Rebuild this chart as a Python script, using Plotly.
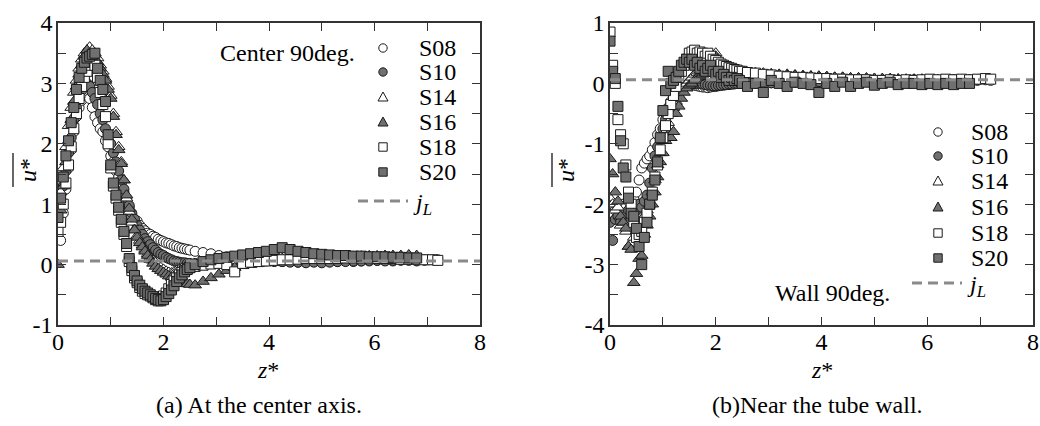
import plotly.graph_objects as go

# ---------------- data ----------------
Z = [0.0, 0.05, 0.1, 0.15, 0.2, 0.25, 0.3, 0.35, 0.4, 0.45,
     0.5, 0.55, 0.6, 0.65, 0.7, 0.75, 0.8, 0.85, 0.9, 0.95,
     1.0, 1.05, 1.1, 1.15, 1.2, 1.25, 1.3, 1.35, 1.4, 1.45,
     1.5, 1.55, 1.6, 1.65, 1.7, 1.75, 1.8, 1.85, 1.9, 1.95,
     2.0, 2.05, 2.1, 2.15, 2.2, 2.25, 2.3, 2.35, 2.4, 2.45,
     2.5,
     2.6, 2.75, 2.9, 3.05, 3.2, 3.35, 3.5, 3.65, 3.8, 3.95,
     4.1, 4.25, 4.4, 4.55, 4.7, 4.85, 5.0, 5.15, 5.3, 5.45,
     5.6, 5.75, 5.9, 6.05, 6.2, 6.35, 6.5, 6.65, 6.8, 6.95,
     7.1, 7.2]

SERIES = ["S08", "S10", "S14", "S16", "S18", "S20"]
J_L = 0.06

# (a) center axis
A_S08 = [None, 0.40, 0.85, 1.25, 1.6, 1.9, 2.2, 2.45, 2.6, 2.72,
         2.8, 2.8, 2.75, 2.6, 2.45, 2.35, 2.25, 2.2, 2.05, 1.95,
         1.8, 1.7, 1.55, 1.45, 1.35, 1.2, 1.05, 0.95, 0.8, 0.75,
         0.72, 0.65, 0.6, 0.56, 0.52, 0.5, 0.47, 0.45, 0.42, 0.4,
         0.38, 0.36, 0.35, 0.33, 0.31, 0.3, 0.28, 0.27, 0.26, 0.25,
         0.24,
         0.22, 0.2, 0.18, 0.15, 0.13, 0.12, 0.1, 0.09, 0.08, 0.07,
         0.06, 0.05, 0.05, 0.04, 0.04, 0.05, 0.04, 0.05, 0.05, 0.06,
         0.05, 0.06, 0.06, 0.07, 0.07, 0.06, 0.07, 0.07, 0.06, 0.07,
         0.08, 0.08]
A_S10 = [1.25, 1.1, 1.3, 1.55, 1.85, 2.1, 2.4, 2.6, 2.75, 2.88,
         2.95, 3.0, 2.95, 2.85, 2.75, 2.65, 2.5, 2.4, 2.25, 2.15,
         2.0, 1.85, 1.7, 1.55, 1.4, 1.25, 1.1, 0.98, 0.85, 0.75,
         0.65, 0.57, 0.5, 0.43, 0.38, 0.33, 0.28, 0.24, 0.2, 0.17,
         0.15, 0.12, 0.1, 0.08, 0.06, 0.05, 0.04, 0.03, 0.03, 0.02,
         0.02,
         0.02, 0.02, 0.03, 0.03, 0.04, 0.05, 0.05, 0.06, 0.07, 0.06,
         0.05, 0.05, 0.04, 0.04, 0.03, 0.04, 0.03, 0.04, 0.05, 0.05,
         0.06, 0.06, 0.07, 0.07, 0.06, 0.07, 0.08, 0.08, 0.07, 0.08]
A_S14 = [None, 1.2, 1.6, 1.95, 2.3, 2.6, 2.85, 3.05, 3.25, 3.4,
         3.5, 3.55, 3.6, 3.55, 3.5, 3.42, 3.3, 3.2, 3.08, 2.95,
         2.8, 2.5, 2.2, 1.95, 1.7, 1.4, 1.1, 0.88, 0.7, 0.58,
         0.48, 0.4, 0.32, 0.25, 0.18, 0.12, 0.07, 0.03, -0.02, -0.05,
         -0.08, -0.11, -0.13, -0.14, -0.12, -0.1, -0.08, -0.06, -0.05, -0.04,
         -0.03,
         -0.02, 0.0, 0.02, 0.03, 0.05, 0.06, 0.07, 0.08, 0.08, 0.09,
         0.1, 0.1, 0.1, 0.11, 0.11, 0.12, 0.12, 0.12, 0.13, 0.13,
         0.13, 0.14, 0.14, 0.14, 0.13, 0.13, 0.13, 0.12, 0.12]
A_S16 = [0.0, 0.9, 1.3, 1.7, 2.05, 2.4, 2.7, 2.95, 3.15, 3.3,
         3.45, 3.55, 3.5, 3.45, 3.4, 3.35, 3.25, 3.15, 3.05, 2.9,
         2.75, 2.45, 2.15, 1.9, 1.67, 1.4, 1.15, 0.93, 0.75, 0.57,
         0.45, 0.36, 0.29, 0.22, 0.15, 0.08, 0.02, -0.03, -0.07, -0.1,
         -0.13, -0.16, -0.19, -0.21, -0.23, -0.25, -0.27, -0.29, -0.31, -0.32,
         -0.33,
         -0.34, -0.28, -0.22, -0.16, -0.1, -0.05, -0.02, 0.0, 0.02, 0.03,
         0.05, 0.06, 0.07, 0.08, 0.09, 0.1, 0.1, 0.11, 0.12, 0.12,
         0.13, 0.13, 0.14, 0.14, 0.15, 0.15, 0.15, 0.16, 0.15]
A_S18 = [0.55, 0.7, 1.0, 1.35, 1.65, 1.95, 2.25, 2.5, 2.75, 2.95,
         3.1, 3.2, 3.3, 3.35, 3.3, 3.1, 2.85, 2.65, 2.45, 2.0,
         1.6, 1.3, 1.1, 0.9, 0.7, 0.5, 0.3, 0.05, -0.1, -0.22,
         -0.3, -0.38, -0.44, -0.48, -0.5, -0.52, -0.55, -0.58, -0.6, -0.57,
         -0.52, -0.47, -0.4, -0.33, -0.27, -0.22, -0.17, -0.13, -0.1, -0.07,
         -0.05,
         -0.03, -0.01, 0.01, 0.02, 0.0, -0.12, 0.02, 0.04, 0.05, 0.06,
         0.07, 0.08, 0.08, 0.09, 0.1, 0.1, 0.1, 0.1, 0.1, 0.11,
         0.11, 0.11, 0.11, 0.1, 0.1, 0.1, 0.09, 0.09, 0.09, 0.08,
         0.08, 0.07]
A_S20 = [0.78, 1.1, 1.45, 1.8, 2.05, 2.35, 2.6, 2.9, 3.1, 3.25,
         3.35, 3.42, 3.45, 3.48, 3.5, 3.25, 3.05, 2.9, 2.7, 2.15,
         1.65, 1.35, 1.15, 0.95, 0.75, 0.55, 0.35, 0.1, -0.05, -0.18,
         -0.27, -0.34, -0.4, -0.44, -0.47, -0.5, -0.53, -0.56, -0.58, -0.6,
         -0.58, -0.53, -0.48, -0.42, -0.35, -0.28, -0.22, -0.17, -0.12, -0.08,
         -0.05,
         0.0, 0.05, 0.08, 0.1, 0.12, 0.14, 0.16, 0.18, 0.2, 0.22,
         0.25, 0.28, 0.25, 0.22, 0.2, 0.18, 0.17, 0.16, 0.15, 0.15,
         0.14, 0.14, 0.13, 0.13, 0.13, 0.12, 0.12, 0.11, 0.11]

# (b) near the tube wall
B_S08 = [-1.95, -2.0, -2.1, -2.05, -2.1, -2.0, -2.05, -1.95, -1.98, -1.9,
         -1.8, -1.6, -1.4, -1.32, -1.25, -1.2, -1.1, -0.98, -0.85, -0.75,
         -0.6, -0.5, -0.4, -0.3, -0.22, -0.15, -0.1, -0.07, -0.05, -0.03,
         -0.02, -0.02, -0.03, -0.04, -0.05, -0.06, -0.06, -0.07, -0.06, -0.05,
         -0.05, -0.04, -0.03, -0.03, -0.02, -0.02, -0.01, -0.01, 0.0, 0.0,
         0.0,
         0.0, 0.01, 0.0, 0.01, 0.02, 0.01, 0.02, 0.03, 0.02, 0.03,
         0.04, 0.03, 0.04, 0.04, 0.05, 0.04, 0.05, 0.05, 0.06, 0.05,
         0.05, 0.06, 0.05, 0.06, 0.05, 0.06, 0.06, 0.05, 0.06, 0.05,
         0.06, 0.05]
B_S10 = [-2.3, -2.6, -2.25, -2.2, -2.3, -2.15, -2.2, -2.1, -2.15, -2.05,
         -2.1, -2.0, -2.05, -1.95, -1.85, -1.65, -1.4, -1.2, -1.05, -0.9,
         -0.75, -0.6, -0.45, -0.35, -0.25, -0.18, -0.12, -0.08, -0.05, -0.03,
         -0.02, -0.01, 0.0, 0.0, 0.0, -0.01, -0.02, -0.03, -0.03, -0.04,
         -0.04, -0.03, -0.03, -0.02, -0.02, -0.01, -0.01, 0.0, 0.0, 0.01,
         0.01,
         0.0, 0.01, 0.02, 0.01, 0.02, 0.03, 0.02, 0.03, 0.02, 0.03,
         0.04, 0.03, 0.04, 0.03, 0.04, 0.05, 0.04, 0.05, 0.04, 0.05,
         0.05, 0.04, 0.05, 0.06, 0.05, 0.05, 0.06, 0.05, 0.05, 0.06]
B_S14 = [-1.9, -2.0, -2.1, -2.05, -2.35, -2.3, -2.45, -2.7, -2.65, -2.55,
         -2.45, -2.35, -2.25, -2.2, -2.1, -2.0, -1.8, -1.6, -1.35, -1.15,
         -0.95, -0.8, -0.65, -0.5, -0.4, -0.3, -0.2, -0.12, -0.05, 0.0,
         0.05, 0.1, 0.15, 0.18, 0.2, 0.22, 0.25, 0.3, 0.35, 0.45,
         0.5, 0.4, 0.3, 0.28, 0.25, 0.25, 0.22, 0.22, 0.2, 0.2,
         0.2,
         0.18, 0.18, 0.17, 0.16, 0.15, 0.15, 0.14, 0.13, 0.12, 0.12,
         0.11, 0.1, 0.1, 0.09, 0.09, 0.08, 0.08, 0.07, 0.07, 0.07,
         0.06, 0.06, 0.06, 0.06, 0.05, 0.05, 0.05, 0.05, 0.05, 0.05]
B_S16 = [-1.25, -1.5, -1.8, -1.95, -2.2, -2.3, -2.4, -2.7, -2.75, -3.3,
         -3.15, -2.9, -2.85, -2.5, -2.35, -2.2, -2.0, -1.8, -1.55, -1.3,
         -1.15, -0.95, -0.85, -0.9, -0.8, -0.5, -0.38, -0.25, -0.15, -0.08,
         -0.03, 0.0, 0.05, 0.1, 0.12, 0.15, 0.18, 0.2, 0.25, 0.3,
         0.45, 0.35, 0.28, 0.25, 0.22, 0.22, 0.2, 0.2, 0.18, 0.18,
         0.17,
         0.17, 0.16, 0.15, 0.15, 0.14, 0.13, 0.13, 0.12, 0.12, 0.11,
         0.11, 0.1, 0.1, 0.09, 0.09, 0.09, 0.08, 0.08, 0.08, 0.07,
         0.07, 0.07, 0.07, 0.06, 0.06, 0.06, 0.06, 0.06, 0.06]
B_S18 = [0.85, 0.3, 0.0, -0.6, -0.85, -1.0, -1.35, -1.8, -2.0, -2.3,
         -2.55, -2.5, -2.45, -2.3, -2.15, -2.0, -1.8, -1.55, -1.35, -1.1,
         -0.9, -0.7, -0.5, -0.35, -0.2, -0.05, 0.1, 0.2, 0.3, 0.4,
         0.5, 0.52, 0.55, 0.5, 0.52, 0.5, 0.45, 0.5, 0.45, 0.4,
         0.38, 0.35, 0.32, 0.3, 0.28, 0.26, 0.25, 0.23, 0.22, 0.2,
         0.2,
         0.18, 0.17, 0.15, 0.14, 0.12, 0.11, 0.1, 0.1, 0.09, 0.08,
         0.08, 0.07, 0.07, 0.06, 0.06, 0.06, 0.05, 0.05, 0.06, 0.05,
         0.06, 0.05, 0.06, 0.07, 0.06, 0.07, 0.06, 0.07, 0.06, 0.07,
         0.08, 0.07]
B_S20 = [0.7, 0.2, 0.08, -0.38, -0.95, -1.4, -1.55, -1.9, -2.15, -2.2,
         -2.4, -2.7, -3.0, -2.55, -2.3, -2.0, -1.85, -1.6, -1.3, -0.9,
         -0.45, -0.12, 0.2, 0.0, 0.05, 0.1, 0.2, 0.3, 0.35, 0.4,
         0.35, 0.4, 0.3, 0.35, 0.25, 0.3, 0.2, 0.25, 0.3, 0.2,
         0.15, 0.2, 0.1, 0.15, 0.1, 0.05, 0.1, 0.05, 0.08, 0.05,
         0.0,
         -0.05, 0.0, -0.15, 0.05, 0.0, -0.05, 0.02, 0.0, -0.02, -0.15,
         0.0, -0.05, 0.02, -0.05, 0.0, 0.02, -0.03, 0.0, 0.02, -0.02,
         0.0, 0.0, -0.02, 0.0, -0.02, 0.0, -0.02, 0.0, 0.0]

X_TICKS = [0, 2, 4, 6, 8]
A_Y_TICKS = [-1, 0, 1, 2, 3, 4]
B_Y_TICKS = [-4, -3, -2, -1, 0, 1]

# ---------------- style ----------------
W, H = 1040, 426
FONT = "Liberation Serif, Times New Roman, serif"
GRAY = "#707070"
EDGE = "#1a1a1a"
AXC = "#333333"
STY = {
    "S08": dict(symbol="circle", color="white", size=10),
    "S10": dict(symbol="circle", color=GRAY, size=10),
    "S14": dict(symbol="triangle-up", color="white", size=11),
    "S16": dict(symbol="triangle-up", color=GRAY, size=11),
    "S18": dict(symbol="square", color="white", size=10),
    "S20": dict(symbol="square", color=GRAY, size=10),
}


def px(x):
    return x / W


def py(y):
    return 1 - y / H


fig = go.Figure()

panels = [
    ("x", "y", [A_S08, A_S10, A_S14, A_S16, A_S18, A_S20]),
    ("x2", "y2", [B_S08, B_S10, B_S14, B_S16, B_S18, B_S20]),
]
for xa, ya, data in panels:
    for name, vals in zip(SERIES, data):
        s = STY[name]
        fig.add_trace(go.Scatter(
            x=Z[:len(vals)], y=vals, mode="markers", name=name, showlegend=False,
            xaxis=xa, yaxis=ya, cliponaxis=True,
            marker=dict(symbol=s["symbol"], size=s["size"], color=s["color"],
                        line=dict(color=EDGE, width=1)),
        ))

# plot frames (pixels)
LX = (58, 480)
RX = (610, 1033)
TOP, BOT = 23, 325


def axis(dom, rng, tickvals, minor_dtick, standoff):
    return dict(
        domain=dom, range=rng, tickmode="array", tickvals=tickvals,
        ticktext=[str(t) for t in tickvals], automargin=False,
        showline=True, linecolor=AXC, linewidth=1.5, mirror="allticks",
        ticks="inside", ticklen=8, tickwidth=1.2, tickcolor=AXC,
        showgrid=False, zeroline=False, ticklabeloverflow="allow",
        ticklabelstandoff=standoff,
        tickfont=dict(family=FONT, size=24, color="black"),
        minor=dict(dtick=minor_dtick, tick0=0, ticks="inside", ticklen=8,
                   tickwidth=1.2, tickcolor=AXC, showgrid=False),
    )


fig.update_layout(
    template="none",
    width=W, height=H, margin=dict(l=0, r=0, t=0, b=0, autoexpand=False),
    paper_bgcolor="white", plot_bgcolor="white", showlegend=False,
    xaxis=dict(axis([px(LX[0]), px(LX[1])], [0, 8], X_TICKS, 1, -6), anchor="y"),
    yaxis=dict(axis([py(BOT), py(TOP)], [-1, 4], A_Y_TICKS, 0.5, -1), anchor="x"),
    xaxis2=dict(axis([px(RX[0]), px(RX[1])], [0, 8], X_TICKS, 1, -6), anchor="y2"),
    yaxis2=dict(axis([py(BOT), py(TOP)], [-4, 1], B_Y_TICKS, 0.5, -1), anchor="x2"),
)

shapes = []
ann = []
DASH = "10px,6px"
# j_L reference lines
for xr, yr in (("x domain", "y"), ("x2 domain", "y2")):
    shapes.append(dict(type="line", xref=xr, yref=yr, x0=0, x1=1, y0=J_L, y1=J_L,
                       line=dict(color="#8a8a8a", width=3, dash=DASH), layer="above"))


def tx(x, y, text, size=24, xanchor="left", yanchor="middle", angle=0):
    ann.append(dict(xref="paper", yref="paper", x=px(x), y=py(y), text=text,
                    showarrow=False, xanchor=xanchor, yanchor=yanchor, textangle=angle,
                    font=dict(family=FONT, size=size, color="black")))


def legend(sym_x, text_x, rows, line_x0, line_x1, line_y):
    r = 4.2
    for name, yy in zip(SERIES, rows):
        s = STY[name]
        common = dict(xref="paper", yref="paper", fillcolor=s["color"],
                      line=dict(color=EDGE, width=1), layer="above")
        if s["symbol"] == "circle":
            shapes.append(dict(type="circle", x0=px(sym_x - r), x1=px(sym_x + r),
                               y0=py(yy + r), y1=py(yy - r), **common))
        elif s["symbol"] == "square":
            shapes.append(dict(type="rect", x0=px(sym_x - r), x1=px(sym_x + r),
                               y0=py(yy + r), y1=py(yy - r), **common))
        else:
            path = "M {} {} L {} {} L {} {} Z".format(
                px(sym_x - 5), py(yy + 4), px(sym_x + 5), py(yy + 4), px(sym_x), py(yy - 5))
            shapes.append(dict(type="path", path=path, **common))
        tx(text_x, yy, name)
    shapes.append(dict(type="line", xref="paper", yref="paper",
                       x0=px(line_x0), x1=px(line_x1), y0=py(line_y), y1=py(line_y),
                       line=dict(color="#8a8a8a", width=3, dash=DASH)))
    tx(line_x1 + 3, line_y + 3, "<i>j<sub>L</sub></i>")


legend(383, 417, [48, 72, 97, 122, 147, 172], 358, 408, 201)
legend(938, 969, [132, 156, 181, 207, 233, 258], 912, 962, 283)

tx(218, 53, "Center 90deg.")
tx(773, 293, "Wall 90deg.")

# axis titles
tx(268, 370, "<i>z</i>*", xanchor="center")
tx(822, 370, "<i>z</i>*", xanchor="center")
tx(28, 170, "<i>u</i>*", xanchor="center", angle=-90)
tx(566, 170, "<i>u</i>*", xanchor="center", angle=-90)
for ox in (13, 552):
    shapes.append(dict(type="line", xref="paper", yref="paper", x0=px(ox), x1=px(ox),
                       y0=py(153), y1=py(187), line=dict(color="black", width=1.2)))

# captions
tx(259, 405, "(a) At the center axis.", xanchor="center")
tx(817, 405, "(b)Near the tube wall.", xanchor="center")

fig.update_layout(shapes=shapes, annotations=ann)
fig.write_html("out.html", config={"displayModeBar": False},
               post_script="document.body.style.margin='0';document.body.style.overflow='hidden';")
